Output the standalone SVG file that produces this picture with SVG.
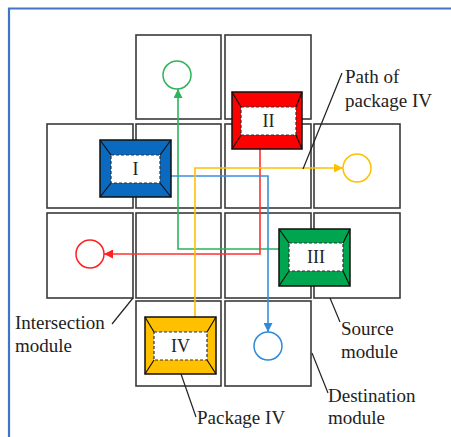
<svg xmlns="http://www.w3.org/2000/svg" width="451" height="437" viewBox="0 0 451 437">
<style>
.cell{fill:#fff;stroke:#3a3a3a;stroke-width:1.6}
.pk{stroke:#111;stroke-width:1.5}
.diag{stroke:#111;stroke-width:1.2;fill:none}
.inner{fill:#fff;stroke:#333;stroke-width:1.2;stroke-dasharray:3 2}
.lbl{font-family:"Liberation Serif","Times New Roman",serif;font-size:19px;fill:#222}
.pl{font-family:"Liberation Serif","Times New Roman",serif;font-size:18px;fill:#222;text-anchor:middle}
.lead{stroke:#222;stroke-width:1.2;fill:none}
.dst{fill:#fff;stroke-width:1.5}
.path{fill:none;stroke-width:1.6}
</style>
<defs>
<marker id="ag" viewBox="0 0 10 10" refX="10" refY="5" markerWidth="10" markerHeight="9" orient="auto" markerUnits="userSpaceOnUse"><path d="M0,0 L10,5 L0,10z" fill="#2db35a"/></marker>
<marker id="ar" viewBox="0 0 10 10" refX="10" refY="5" markerWidth="10" markerHeight="9" orient="auto" markerUnits="userSpaceOnUse"><path d="M0,0 L10,5 L0,10z" fill="#ff2020"/></marker>
<marker id="ab" viewBox="0 0 10 10" refX="10" refY="5" markerWidth="10" markerHeight="9" orient="auto" markerUnits="userSpaceOnUse"><path d="M0,0 L10,5 L0,10z" fill="#2f8ad8"/></marker>
<marker id="ay" viewBox="0 0 10 10" refX="10" refY="5" markerWidth="10" markerHeight="9" orient="auto" markerUnits="userSpaceOnUse"><path d="M0,0 L10,5 L0,10z" fill="#ffc000"/></marker>
</defs>
<path d="M9 451 V8.5 H451" fill="none" stroke="#4472c4" stroke-width="2.2"/>
<g id="grid">
<rect class="cell" x="136" y="35" width="85" height="84"/>
<rect class="cell" x="225" y="35" width="86" height="84"/>
<rect class="cell" x="47" y="124" width="86" height="84"/>
<rect class="cell" x="136" y="124" width="85" height="84"/>
<rect class="cell" x="225" y="124" width="86" height="84"/>
<rect class="cell" x="314" y="124" width="86" height="84"/>
<rect class="cell" x="47" y="213" width="86" height="85"/>
<rect class="cell" x="136" y="213" width="85" height="85"/>
<rect class="cell" x="225" y="213" width="86" height="85"/>
<rect class="cell" x="314" y="213" width="86" height="85"/>
<rect class="cell" x="136" y="301" width="85" height="85"/>
<rect class="cell" x="225" y="301" width="86" height="85"/>
</g>
<g id="destinations">
<circle class="dst" cx="177" cy="75" r="14" stroke="#2db35a"/>
<circle class="dst" cx="357" cy="168" r="14" stroke="#ffc000"/>
<circle class="dst" cx="90" cy="254" r="14" stroke="#ff2020"/>
<circle class="dst" cx="268" cy="346" r="14" stroke="#2f8ad8"/>
</g>
<g id="connectors">
<path class="path" d="M279 249 H178 V89" stroke="#2db35a" marker-end="url(#ag)"/>
<path class="path" d="M260 149 V254 H104" stroke="#ff3030" marker-end="url(#ar)"/>
<path class="path" d="M171 176 H268 V332" stroke="#3a90dc" marker-end="url(#ab)"/>
<path class="path" d="M195 317 V168 H343" stroke="#ffc000" marker-end="url(#ay)"/>
</g>
<g id="pkg1">
<rect class="pk" x="100" y="140" width="71" height="57" fill="#0a6ac0"/>
<path class="diag" d="M100 140 L111 155 M171 140 L160 155 M100 197 L111 183 M171 197 L160 183"/>
<rect class="inner" x="111" y="155" width="49" height="28"/>
<text class="pl" x="135.5" y="175">I</text>
</g>
<g id="pkg2">
<rect class="pk" x="232" y="92" width="70" height="57" fill="#ff0000"/>
<path class="diag" d="M232 92 L241 107 M302 92 L296 107 M232 149 L241 135 M302 149 L296 135"/>
<rect class="inner" x="241" y="107" width="55" height="28"/>
<text class="pl" x="268.5" y="127">II</text>
</g>
<g id="pkg3">
<rect class="pk" x="279" y="229" width="71" height="57" fill="#00a54f"/>
<path class="diag" d="M279 229 L289 243 M350 229 L343 243 M279 286 L289 271 M350 286 L343 271"/>
<rect class="inner" x="289" y="243" width="54" height="28"/>
<text class="pl" x="316" y="263">III</text>
</g>
<g id="pkg4">
<rect class="pk" x="145" y="317" width="71" height="57" fill="#ffc000"/>
<path class="diag" d="M145 317 L154 332 M216 317 L207 332 M145 374 L154 360 M216 374 L207 360"/>
<rect class="inner" x="154" y="332" width="53" height="28"/>
<text class="pl" x="180.5" y="352">IV</text>
</g>
<g id="labels">
<path class="lead" d="M342 73 L303 169"/>
<text class="lbl" x="345" y="83">Path of</text>
<text class="lbl" x="345" y="107">package IV</text>
<path class="lead" d="M112 324 L133 298"/>
<text class="lbl" x="15" y="329">Intersection</text>
<text class="lbl" x="15" y="352">module</text>
<path class="lead" d="M330 298 L340 322"/>
<text class="lbl" x="341" y="335">Source</text>
<text class="lbl" x="341" y="358">module</text>
<path class="lead" d="M312 353 L328 393"/>
<text class="lbl" x="328" y="402">Destination</text>
<text class="lbl" x="328" y="424">module</text>
<path class="lead" d="M181 374 L196 417"/>
<text class="lbl" x="197" y="424">Package IV</text>
</g>
</svg>
